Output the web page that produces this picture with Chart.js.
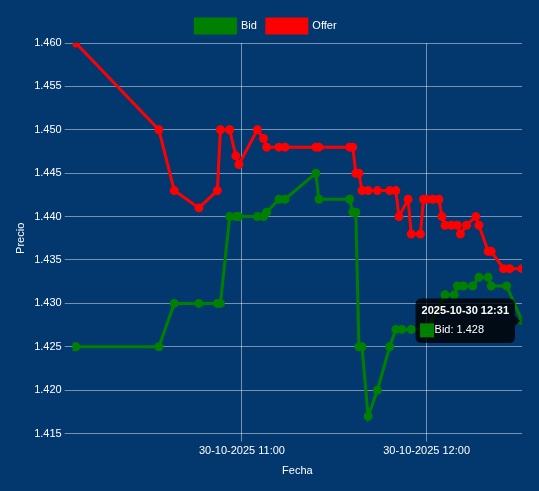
<!DOCTYPE html>
<html>
<head>
<meta charset="utf-8">
<script src="https://cdn.jsdelivr.net/npm/chart.js@4.4.1/dist/chart.umd.min.js"></script>
<style>
    html, body { margin: 0; padding: 0; background: #02386e; }
    #wrap { width: 539px; height: 491px; position: relative; }
</style>
</head>
<body>
<div id="wrap"><canvas id="priceChart"></canvas></div>
<script>
// quotes of 30-10-2025, times as HH:mm
const bidTimes = ["10:05", "10:06", "10:33", "10:38", "10:46", "10:52", "10:53", "10:56", "10:58", "10:59",
    "11:05", "11:07", "11:08", "11:12", "11:14", "11:24", "11:25", "11:35", "11:36", "11:37",
    "11:38", "11:39", "11:41", "11:44", "11:48", "11:50", "11:52", "11:55", "12:00", "12:06",
    "12:09", "12:10", "12:12", "12:15", "12:17", "12:20", "12:21", "12:26", "12:31"];
const bidValues = [1.425, 1.425, 1.425, 1.430, 1.430, 1.430, 1.430, 1.440, 1.440, 1.440,
    1.440, 1.440, 1.4405, 1.442, 1.442, 1.445, 1.442, 1.442, 1.4405, 1.4405,
    1.425, 1.425, 1.417, 1.420, 1.425, 1.427, 1.427, 1.427, 1.427, 1.431,
    1.431, 1.432, 1.432, 1.432, 1.433, 1.433, 1.432, 1.432, 1.428];

const offerTimes = ["10:06", "10:33", "10:38", "10:46", "10:52", "10:53", "10:56", "10:58", "10:59", "11:05",
    "11:07", "11:08", "11:12", "11:14", "11:24", "11:25", "11:35", "11:36", "11:37", "11:38",
    "11:39", "11:41", "11:44", "11:48", "11:50", "11:51", "11:54", "11:55", "11:58", "11:59",
    "12:00", "12:02", "12:04", "12:05", "12:06", "12:08", "12:10", "12:11", "12:13", "12:16",
    "12:17", "12:20", "12:21", "12:25", "12:27", "12:31"];
const offerValues = [1.460, 1.450, 1.443, 1.441, 1.443, 1.450, 1.450, 1.447, 1.446, 1.450,
    1.449, 1.448, 1.448, 1.448, 1.448, 1.448, 1.448, 1.448, 1.445, 1.445,
    1.443, 1.443, 1.443, 1.443, 1.443, 1.440, 1.442, 1.438, 1.438, 1.442,
    1.442, 1.442, 1.442, 1.440, 1.439, 1.439, 1.439, 1.438, 1.439, 1.440,
    1.439, 1.436, 1.436, 1.434, 1.434, 1.434];

const xTickTimes = ["11:00", "12:00"];
const yMin = 1.415, yMax = 1.460, yStep = 0.005;

function toMinutes(hhmm) {
    const p = hhmm.split(":");
    return Number(p[0]) * 60 + Number(p[1]);
}
function fmtTime(m) {
    const h = Math.floor(m / 60), mm = Math.round(m % 60);
    return String(h).padStart(2, "0") + ":" + String(mm).padStart(2, "0");
}

const bidData = bidTimes.map((t, i) => ({ x: toMinutes(t), y: bidValues[i] }));
const offerData = offerTimes.map((t, i) => ({ x: toMinutes(t), y: offerValues[i] }));
const allX = bidData.concat(offerData).map(p => p.x);

Chart.defaults.color = "#ffffff";
Chart.defaults.font.size = 11;

const gridColor = "rgba(255, 255, 255, 0.45)";

const ctx = document.getElementById("priceChart").getContext("2d");
const priceChart = new Chart(ctx, {
    type: "line",
    data: {
        datasets: [{
            label: "Bid",
            data: bidData,
            borderColor: "green",
            backgroundColor: "green",
            borderWidth: 3,
            pointRadius: 3,
            tension: 0
        }, {
            label: "Offer",
            data: offerData,
            borderColor: "red",
            backgroundColor: "red",
            borderWidth: 3,
            pointRadius: 3,
            tension: 0
        }]
    },
    options: {
        responsive: true,
        maintainAspectRatio: false,
        animation: false,
        layout: { padding: { left: 10, right: 17, top: 9, bottom: 9 } },
        plugins: {
            legend: {
                labels: { boxWidth: 40, boxHeight: 14, color: "#ffffff" }
            },
            tooltip: {
                callbacks: {
                    title: items => "2025-10-30 " + fmtTime(items[0].parsed.x),
                    label: item => item.dataset.label + ": " + item.parsed.y
                }
            }
        },
        scales: {
            x: {
                type: "linear",
                min: Math.min(...allX),
                max: Math.max(...allX),
                title: { display: true, text: "Fecha", color: "#ffffff" },
                grid: { color: gridColor },
                border: { display: false },
                afterBuildTicks: scale => {
                    scale.ticks = xTickTimes.map(t => ({ value: toMinutes(t) }));
                },
                ticks: {
                    maxRotation: 0,
                    callback: v => "30-10-2025 " + fmtTime(v)
                }
            },
            y: {
                min: yMin,
                max: yMax,
                title: { display: true, text: "Precio", color: "#ffffff" },
                grid: { color: gridColor },
                border: { display: false },
                ticks: {
                    stepSize: yStep,
                    callback: v => v.toFixed(3)
                }
            }
        }
    }
});

// show the hover state on the last bid quote, as in the screenshot
const lastBid = bidData.length - 1;
const pt = priceChart.getDatasetMeta(0).data[lastBid];
priceChart.setActiveElements([{ datasetIndex: 0, index: lastBid }]);
priceChart.tooltip.setActiveElements([{ datasetIndex: 0, index: lastBid }], { x: pt.x, y: pt.y });
priceChart.update();
</script>
</body>
</html>
